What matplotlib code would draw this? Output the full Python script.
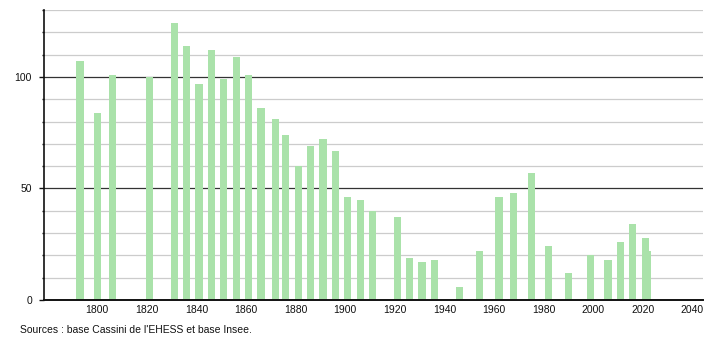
import numpy as np
import matplotlib
matplotlib.use('Agg')
import matplotlib.pyplot as plt
from matplotlib.ticker import MultipleLocator

plt.rcParams['font.family'] = ['Liberation Sans', 'DejaVu Sans']

# population by census year
years = [1793, 1800, 1806, 1821, 1831, 1836, 1841, 1846, 1851, 1856,
         1861, 1866, 1872, 1876, 1881, 1886, 1891, 1896, 1901, 1906,
         1911, 1921, 1926, 1931, 1936, 1946, 1954, 1962, 1968, 1975,
         1982, 1990, 1999, 2006, 2011, 2016, 2021, 2022]
population = [107, 84, 101, 100, 124, 114, 97, 112, 99, 109,
              101, 86, 81, 74, 60, 69, 72, 67, 46, 45,
              40, 37, 19, 17, 18, 6, 22, 46, 48, 57,
              24, 12, 20, 18, 26, 34, 28, 22]
x_ticks = [1800, 1820, 1840, 1860, 1880, 1900, 1920, 1940, 1960, 1980, 2000, 2020, 2040]
y_labels = [0, 50, 100]
source = "Sources : base Cassini de l'EHESS et base Insee."

fig = plt.figure(figsize=(7.1, 3.4), dpi=100)
ax = fig.add_axes([44/710, 40/340, 659/710, 290/340])

# grid lines: light every 10, dark every 50
for v in range(10, 131, 10):
    if v % 50 == 0:
        ax.axhline(v, color='#333333', lw=0.9, zorder=1)
    else:
        ax.axhline(v, color='#cccccc', lw=0.9, zorder=1)

ax.bar(years, population, width=2.9, color='#aae2aa', zorder=2)

ax.set_xlim(1778.5, 2044.3)
ax.set_ylim(0, 130)

ax.set_xticks(x_ticks)
ax.set_yticks(y_labels)
ax.yaxis.set_minor_locator(MultipleLocator(10))
ax.tick_params(axis='x', length=0, labelsize=7.5, pad=3.5, colors='#111111')
ax.tick_params(axis='y', which='major', length=3.6, width=1, labelsize=7.5, pad=5, colors='#111111')
ax.tick_params(axis='y', which='minor', length=1.6, width=1, color='#111111')

ax.spines['top'].set_visible(False)
ax.spines['right'].set_visible(False)
ax.spines['left'].set_linewidth(1.2)
ax.spines['bottom'].set_linewidth(1.4)
ax.spines['left'].set_color('#111111')
ax.spines['bottom'].set_color('#111111')

fig.text(20/710, 1 - 330/340, source, fontsize=7.5, color='#111111', va='center', ha='left')

plt.savefig('out.png', dpi=100)
